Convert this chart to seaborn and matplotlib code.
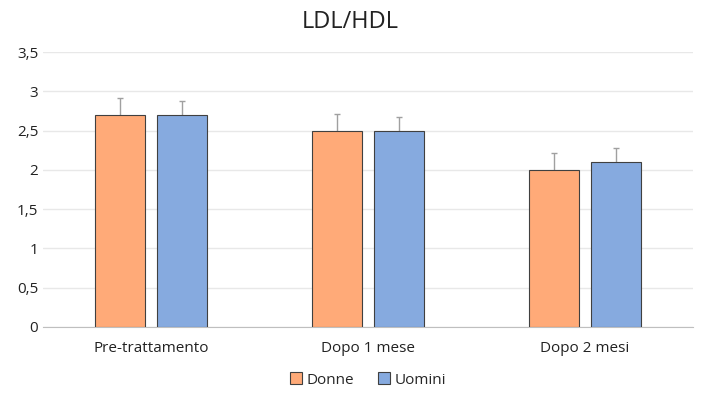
import pandas as pd
import matplotlib
matplotlib.use("Agg")
import matplotlib.pyplot as plt
import seaborn as sns
from matplotlib.ticker import FuncFormatter, MultipleLocator

periods = ["Pre-trattamento", "Dopo 1 mese", "Dopo 2 mesi"]
groups = ["Donne", "Uomini"]
donne = [2.7, 2.5, 2.0]
uomini = [2.7, 2.5, 2.1]
donne_err = [0.21, 0.21, 0.21]
uomini_err = [0.18, 0.17, 0.18]

df = pd.DataFrame({
    "periodo": periods * 2,
    "sesso": [groups[0]] * 3 + [groups[1]] * 3,
    "valore": donne + uomini,
    "err": donne_err + uomini_err,
})

sns.set_style("white")
plt.rcParams["font.family"] = ["Open Sans", "DejaVu Sans"]

fig = plt.figure(figsize=(7.01, 3.93), dpi=100)
ax = fig.add_axes([43 / 701, 1 - 327 / 393, 650 / 701, 275 / 393])

palette = {"Donne": "#FFAA78", "Uomini": "#86AADF"}
sns.barplot(data=df, x="periodo", y="valore", hue="sesso", palette=palette,
            width=0.572, gap=0.19, errorbar=None, edgecolor="#404040",
            linewidth=0.8, saturation=1, ax=ax, zorder=3)

# error bars (upper only), bars come in hue order
for bar, (_, row) in zip(ax.patches, df.iterrows()):
    x = bar.get_x() + bar.get_width() / 2
    _, caps, _ = ax.errorbar(x, row["valore"], yerr=[[0], [row["err"]]],
                             color="#A0A0A0", capsize=2.5, elinewidth=1,
                             capthick=1, zorder=2)
    caps[0].set_visible(False)

ax.set_ylim(0, 3.5)
ax.set_xlim(-0.5, 2.5)
ax.yaxis.set_major_locator(MultipleLocator(0.5))
ax.yaxis.set_major_formatter(FuncFormatter(lambda v, p: f"{v:g}".replace(".", ",")))
ax.grid(axis="y", color="#E8E8E8", linewidth=1, zorder=0)
ax.set_axisbelow(True)
for s in ["top", "right", "left"]:
    ax.spines[s].set_visible(False)
ax.spines["bottom"].set_color("#BFBFBF")
ax.tick_params(axis="both", length=0, labelsize=11, colors="#222222")
ax.tick_params(axis="x", pad=10)
ax.set_xlabel("")
ax.set_ylabel("")

fig.suptitle("LDL/HDL", x=0.5, y=0.975, fontsize=17, color="#222222")

handles, labels = ax.get_legend_handles_labels()
ax.legend(handles, labels, loc="upper center", bbox_to_anchor=(0.5, -0.115),
          ncol=2, frameon=False, fontsize=11, handlelength=0.8, handleheight=0.8,
          handletextpad=0.3, columnspacing=1.5)

fig.savefig("out.png", dpi=100)
